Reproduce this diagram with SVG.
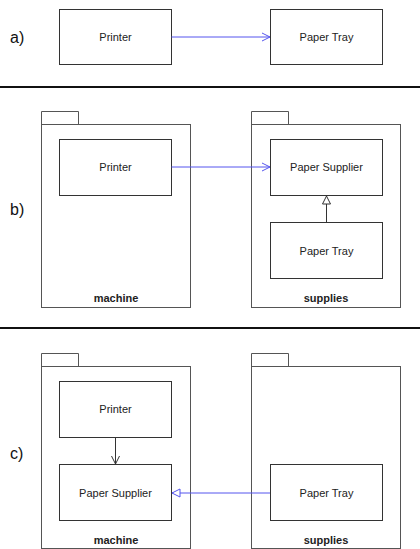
<svg xmlns="http://www.w3.org/2000/svg" width="420" height="549" viewBox="0 0 420 549">
<defs>
<style>
.box{fill:#fff;stroke:#333;stroke-width:1}
.pkg{fill:#fff;stroke:#555;stroke-width:1}
.t{font-family:"Liberation Sans",Arial,sans-serif;font-size:11px;fill:#222;text-anchor:middle}
.b{font-weight:bold}
.lab{font-family:"Liberation Sans",Arial,sans-serif;font-size:16px;fill:#111}
.dep{stroke:#5555ee;stroke-width:1;fill:none}
.blk{stroke:#333;stroke-width:1;fill:none}
.div{stroke:#111;stroke-width:2}
</style>
<marker id="openB" markerWidth="10" markerHeight="10" refX="9" refY="5" orient="auto" markerUnits="userSpaceOnUse"><path d="M1,1 L9,5 L1,9" fill="none" stroke="#5555ee" stroke-width="1"/></marker>
<marker id="openK" markerWidth="10" markerHeight="10" refX="9" refY="5" orient="auto" markerUnits="userSpaceOnUse"><path d="M1,1 L9,5 L1,9" fill="none" stroke="#333" stroke-width="1"/></marker>
<marker id="triK" markerWidth="10" markerHeight="10" refX="9" refY="5" orient="auto" markerUnits="userSpaceOnUse"><path d="M1,1 L9,5 L1,9 Z" fill="#fff" stroke="#333" stroke-width="1"/></marker>
<marker id="triB" markerWidth="10" markerHeight="10" refX="9" refY="5" orient="auto" markerUnits="userSpaceOnUse"><path d="M1,1 L9,5 L1,9 Z" fill="#fff" stroke="#5555ee" stroke-width="1"/></marker>
</defs>
<rect width="420" height="549" fill="#fff"/>

<text class="lab" x="10" y="43">a)</text>
<text class="lab" x="10" y="215">b)</text>
<text class="lab" x="10" y="459">c)</text>
<line class="div" x1="0" y1="87" x2="420" y2="87"/>
<line class="div" x1="0" y1="328" x2="420" y2="328"/>

<g id="a-printer"><rect class="box" x="59.5" y="9.5" width="112" height="55"/><text class="t" x="115.5" y="41">Printer</text></g>
<g id="a-papertray"><rect class="box" x="270.5" y="9.5" width="112" height="55"/><text class="t" x="326.5" y="41">Paper Tray</text></g>

<g id="b-machine"><path class="pkg" d="M41.5,124.5 V111.5 H78.5 V124.5"/><rect class="pkg" x="41.5" y="124.5" width="149" height="183"/><text class="t b" x="116" y="302">machine</text></g>
<g id="b-supplies"><path class="pkg" d="M251.5,124.5 V111.5 H288.5 V124.5"/><rect class="pkg" x="251.5" y="124.5" width="149" height="183"/><text class="t b" x="326" y="302">supplies</text></g>
<g id="b-printer"><rect class="box" x="59.5" y="139.5" width="112" height="56"/><text class="t" x="115.5" y="171">Printer</text></g>
<g id="b-papersupplier"><rect class="box" x="270.5" y="139.5" width="112" height="56"/><text class="t" x="326.5" y="171">Paper Supplier</text></g>
<g id="b-papertray"><rect class="box" x="270.5" y="222.5" width="112" height="56"/><text class="t" x="326.5" y="255">Paper Tray</text></g>

<g id="c-machine"><path class="pkg" d="M41.5,366.5 V353.5 H78.5 V366.5"/><rect class="pkg" x="41.5" y="366.5" width="149" height="182"/><text class="t b" x="116" y="544">machine</text></g>
<g id="c-supplies"><path class="pkg" d="M251.5,366.5 V353.5 H288.5 V366.5"/><rect class="pkg" x="251.5" y="366.5" width="149" height="182"/><text class="t b" x="326" y="544">supplies</text></g>
<g id="c-printer"><rect class="box" x="59.5" y="381.5" width="112" height="56"/><text class="t" x="115.5" y="413">Printer</text></g>
<g id="c-papersupplier"><rect class="box" x="59.5" y="464.5" width="112" height="56"/><text class="t" x="115.5" y="497">Paper Supplier</text></g>
<g id="c-papertray"><rect class="box" x="270.5" y="464.5" width="112" height="56"/><text class="t" x="326.5" y="497">Paper Tray</text></g>

<g id="connectors">
<line class="dep" x1="171.5" y1="37" x2="270" y2="37" marker-end="url(#openB)"/>
<line class="dep" x1="171.5" y1="167" x2="270" y2="167" marker-end="url(#openB)"/>
<line class="blk" x1="326.5" y1="222.5" x2="326.5" y2="196" marker-end="url(#triK)"/>
<line class="blk" x1="115.5" y1="437.5" x2="115.5" y2="464" marker-end="url(#openK)"/>
<line class="dep" x1="270" y1="493" x2="172" y2="493" marker-end="url(#triB)"/>
</g>
</svg>
